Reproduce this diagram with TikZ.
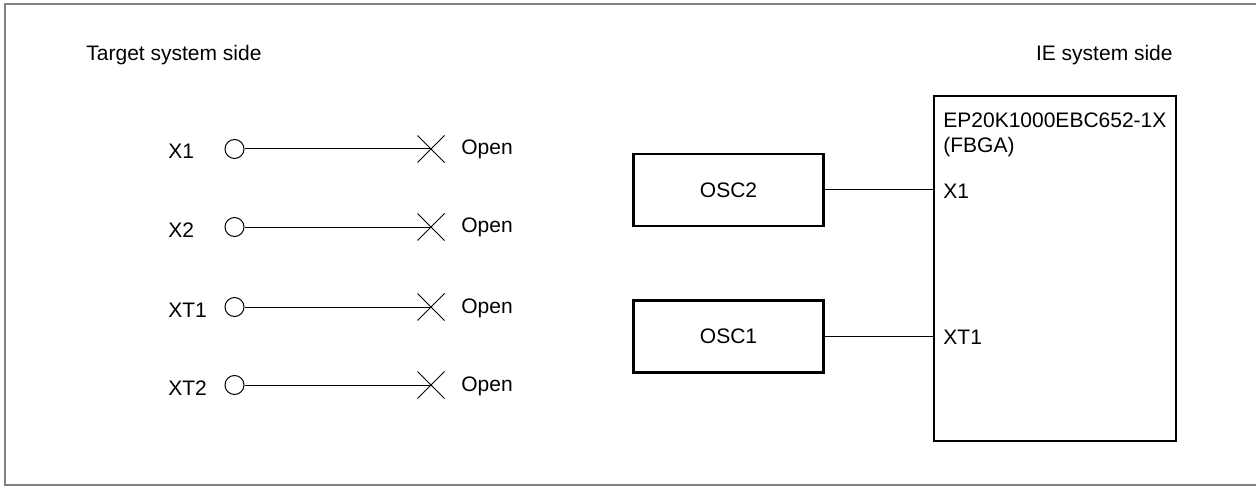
\documentclass[tikz,border=0pt]{standalone}
\usepackage{fontspec}
\setmainfont{Liberation Sans}
\usetikzlibrary{shapes.misc}
\begin{document}
\begin{tikzpicture}[x=0.5pt,y=-0.5pt,
  every node/.style={font=\fontsize{10.5}{12.6}\selectfont, inner sep=0pt},
  lbl/.style={anchor=base west},
  pin/.style={circle, draw, line width=0.5pt, minimum size=9.5pt},
  openx/.style={cross out, draw, line width=0.5pt, minimum size=13pt},
  wire/.style={line width=0.5pt},
  oscbox/.style={draw, line width=1.2pt, minimum width=95pt, minimum height=36pt},
  chip/.style={draw, line width=1.2pt, minimum width=121pt, minimum height=172.5pt}]
\useasboundingbox (0,0) rectangle (1256,486);
\draw[gray, line width=0.7pt] (1270,4) -- (5,4) -- (5,485) -- (1270,485);
\node[lbl] (tss) at (86,61) {Target system side};
\node[anchor=base east] (iss) at (1173,61) {IE system side};
% left pins
\foreach \n/\t/\y in {a/X1/149,b/X2/227,c/XT1/307,d/XT2/385}{
  \node[lbl] (l\n) at (168,\y+10) {\t};
  \node[pin] (p\n) at (234.5,\y) {};
  \node[openx] (x\n) at (431,\y) {};
  \node[lbl] (o\n) at (461,\y+6) {Open};
  \draw[wire] (p\n.east) -- (x\n.center);
}
% right side
\node[chip] (ic) at (1055,268.5) {};
\node[lbl] (ept) at (943,128) {EP20K1000EBC652-1X};
\node[lbl] (fbga) at (943,153) {(FBGA)};
\node[oscbox] (osc2) at (728.5,190) {OSC2};
\node[oscbox] (osc1) at (728.5,336.5) {OSC1};
\coordinate (ix1) at (ic.west |- osc2.east);
\coordinate (ixt1) at (ic.west |- osc1.east);
\node[anchor=west] (lx1) at (943,191) {X1};
\node[anchor=west] (lxt1) at (943,337) {XT1};
\draw[wire] (osc2.east) -- (ix1);
\draw[wire] (osc1.east) -- (ixt1);
\end{tikzpicture}
\end{document}
